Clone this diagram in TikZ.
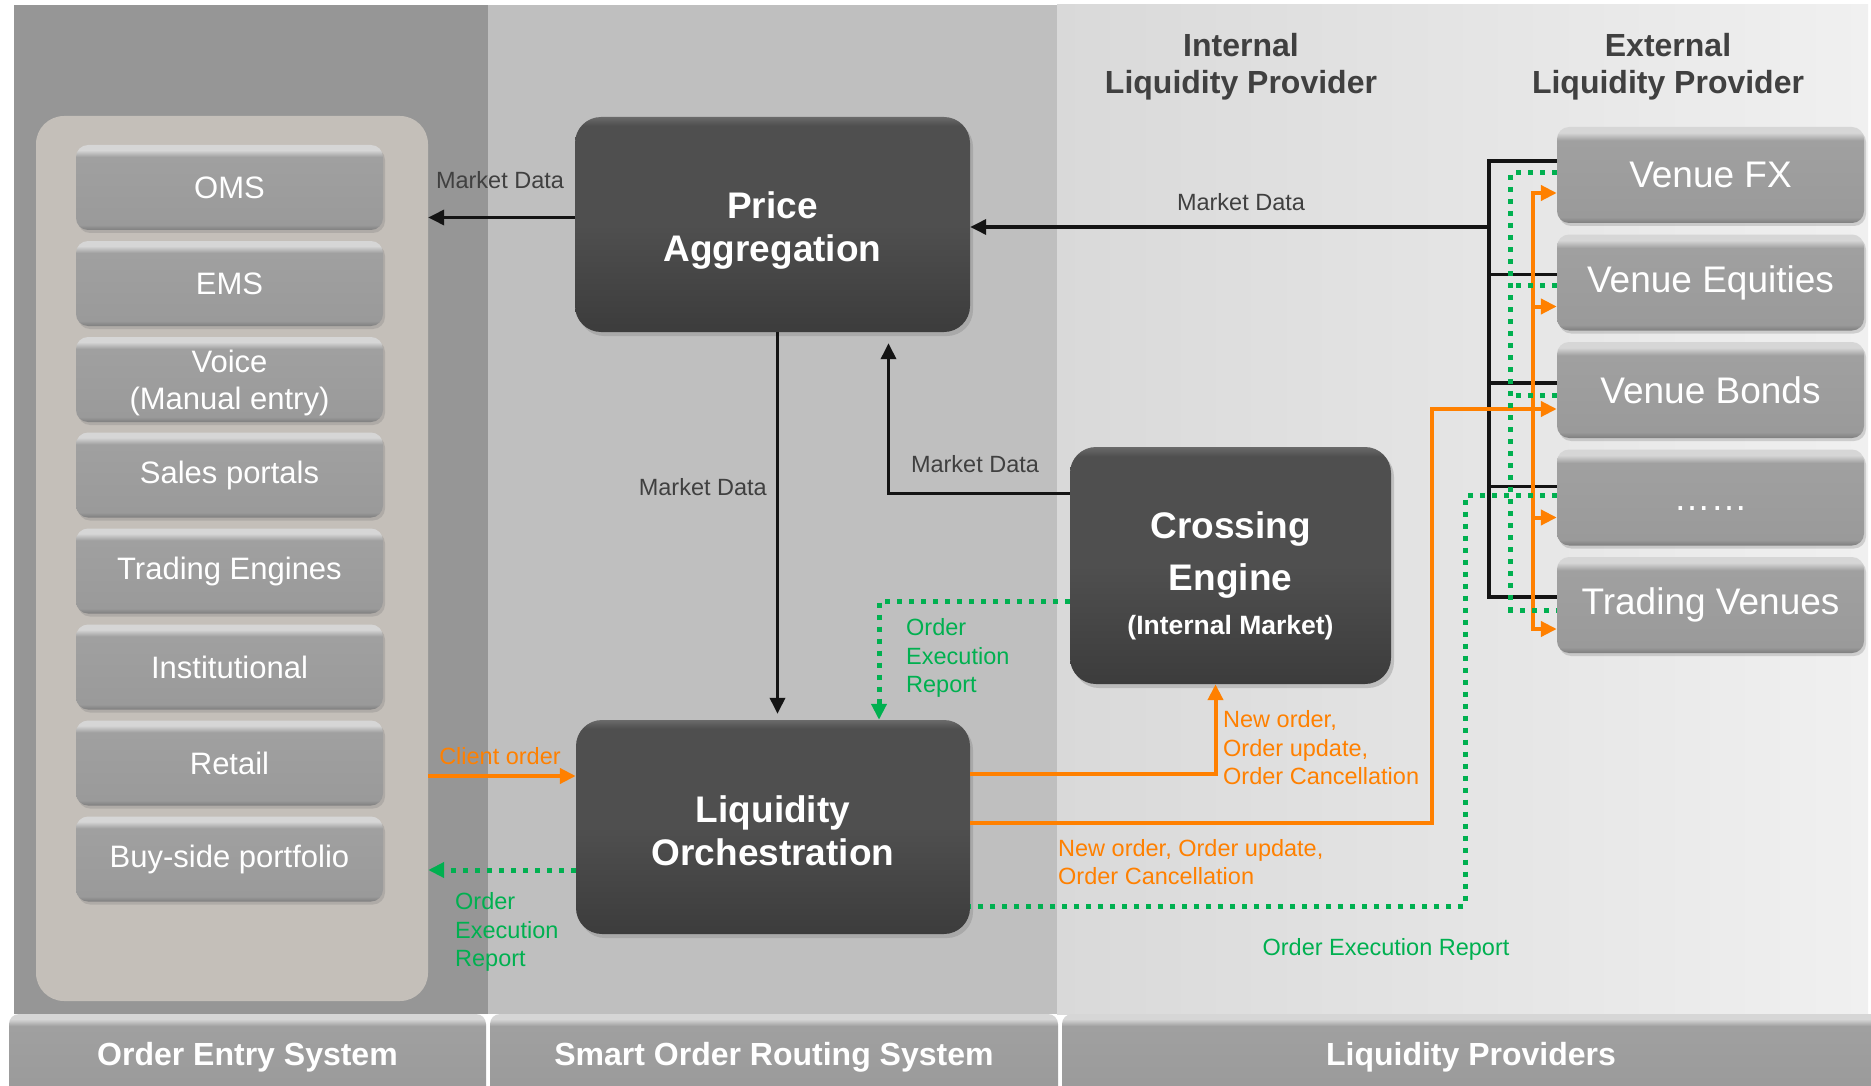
\documentclass[tikz,border=0pt]{standalone}
\usepackage{fontspec}
\setmainfont{Liberation Sans}
\usetikzlibrary{arrows.meta,shadows}

\definecolor{oesgray}{HTML}{969696}
\definecolor{sorgray}{HTML}{BFBFBF}
\definecolor{lpleft}{HTML}{D9D9D9}
\definecolor{lpright}{HTML}{F0F0F0}
\definecolor{panelbeige}{HTML}{C4BFB9}
\definecolor{btntop}{HTML}{D6D6D6}
\definecolor{btnmid}{HTML}{A0A0A0}
\definecolor{btnlow}{HTML}{9A9A9A}
\definecolor{btnbot}{HTML}{7E7E7E}
\definecolor{boxtop}{HTML}{6A6A6A}
\definecolor{boxmid}{HTML}{4F4F4F}
\definecolor{boxbot}{HTML}{3C3C3C}
\definecolor{txtgray}{HTML}{404040}
\definecolor{ordorange}{HTML}{FF8000}
\definecolor{rptgreen}{HTML}{00B050}

\pgfdeclareverticalshading{btnshade}{100bp}{color(0bp)=(btnbot); color(25bp)=(btnbot);
  color(28bp)=(btnlow); color(68bp)=(btnmid); color(72bp)=(btntop); color(100bp)=(btntop)}
\pgfdeclareverticalshading{boxshade}{100bp}{color(0bp)=(boxbot); color(25bp)=(boxbot);
  color(50bp)=(boxmid); color(73bp)=(boxmid); color(75bp)=(boxtop); color(100bp)=(boxtop)}

\tikzset{
  srcbtn/.style={rounded corners=12pt, shading=btnshade,
    minimum width=307pt, minimum height=85pt, text=white, align=center, inner sep=0pt,
    font=\fontsize{31}{37}\selectfont,
    drop shadow={opacity=0.3, shadow xshift=2pt, shadow yshift=-3pt}},
  venuebtn/.style={srcbtn, minimum height=96pt, font=\fontsize{37}{43}\selectfont},
  barbtn/.style={rounded corners=10pt, shading=btnshade,
    minimum height=86pt, text=white, inner sep=0pt, font=\bfseries\fontsize{32}{38}\selectfont},
  darkbox/.style={rounded corners=26pt, shading=boxshade,
    text=white, align=center, inner sep=0pt, font=\bfseries\fontsize{37}{43}\selectfont,
    drop shadow={opacity=0.35, shadow xshift=3pt, shadow yshift=-4pt}},
  panel/.style={rounded corners=28pt, fill=panelbeige, minimum width=392pt, minimum height=885pt},
  headtext/.style={text=txtgray, align=center, font=\bfseries\fontsize{32}{37}\selectfont},
  mdtext/.style={text=txtgray, inner sep=0pt, align=left, font=\fontsize{23.5}{28.5}\selectfont},
  ordtext/.style={mdtext, text=ordorange},
  rpttext/.style={mdtext, text=rptgreen},
  tip/.style={-{Triangle[length=16pt,width=15pt]}},
  busline/.style={line width=3.5pt, black!92},
  mdline/.style={busline, tip},
  ordline/.style={line width=4pt, ordorange},
  rptline/.style={line width=5pt, rptgreen, dash pattern=on 5pt off 7pt}
}

\begin{document}
\begin{tikzpicture}[x=1pt,y=-1pt]
\useasboundingbox (0,0) rectangle (1871,1086);
\clip (0,0) rectangle (1871,1086);

% columns
\fill[oesgray] (14,5) rectangle (488,1014);
\fill[sorgray] (488,5) rectangle (1057,1014);
\shade[left color=lpleft, right color=lpright] (1057,5) rectangle (1868,1014);
\node[panel] (panel) at (232,558.5) {};

\node[barbtn, minimum width=477pt] (baroes) at (247.5,1057) {Order Entry System};
\node[barbtn, minimum width=568pt] (barsor) at (774,1057) {Smart Order Routing System};
\node[barbtn, minimum width=818pt] (barlp) at (1471,1057) {Liquidity Providers};

% order entry
\node[srcbtn] (oms) at (229.5,187.5) {OMS};
\node[srcbtn] (ems) at (229.5,283.5) {EMS};
\node[srcbtn] (voice) at (229.5,379.5) {\rule{0pt}{30pt}Voice\\(Manual entry)};
\node[srcbtn] (sales) at (229.5,475) {Sales portals};
\node[srcbtn] (trading) at (229.5,571) {Trading Engines};
\node[srcbtn] (inst) at (229.5,667) {Institutional};
\node[srcbtn] (retail) at (229.5,763) {Retail};
\node[srcbtn] (buyside) at (229.5,859) {Buy-side portfolio};

% providers
\node[headtext] (inthead) at (1241,67) {Internal\\Liquidity Provider};
\node[headtext] (exthead) at (1668,67) {External\\Liquidity Provider};
\node[venuebtn] (vfx) at (1710.5,175) {Venue FX};
\node[venuebtn] (veq) at (1710.5,282.5) {Venue Equities};
\node[venuebtn] (vbond) at (1710.5,390) {Venue Bonds};
\node[venuebtn] (vdots) at (1710.5,497.5) {\smash{\raisebox{-13pt}{……}}};
\node[venuebtn] (vtrade) at (1710.5,605) {Trading Venues};

\node[darkbox, minimum width=395pt, minimum height=215pt] (price) at (772.5,224.5)
  {\rule{0pt}{39pt}Price\\Aggregation};
\node[darkbox, minimum width=394pt, minimum height=214pt] (liquidity) at (773,827)
  {\rule{0pt}{34pt}Liquidity\\Orchestration};
\node[darkbox, minimum width=321pt, minimum height=237pt] (crossing) at (1230.5,565.5)
  {\rule{0pt}{47pt}Crossing\\[9pt]Engine\\[1pt]{\fontsize{26.5}{30}\selectfont (Internal Market)}};

% market data
\coordinate (mdbus) at (1489,227);
\draw[mdline] ([yshift=7pt]price.west) -- ([yshift=7pt]price.west -| panel.east);
\draw[mdline] (mdbus) -- (mdbus -| price.east);
\draw[mdline] ([xshift=5pt]price.south) -- ([xshift=5pt,yshift=6pt]price.south |- liquidity.north);
\draw[mdline] ([yshift=72pt]crossing.west) -| ([xshift=116pt,yshift=-11pt]price.south);
\draw[busline] ([yshift=14pt]vfx.west) -- ++(-68,0) |- ([yshift=8pt]vtrade.west);
\draw[busline] ([yshift=8pt]veq.west) -- ++(-68,0);
\draw[busline] ([yshift=7pt]vbond.west) -- ++(-68,0);
\draw[busline] ([yshift=11pt]vdots.west) -- ++(-68,0);

% orders
\coordinate (ordturn) at (1432,409);
\draw[ordline, tip] ([yshift=51pt]liquidity.west -| panel.east) -- ([yshift=51pt]liquidity.west);
\draw[ordline, tip] ([yshift=53pt]liquidity.east) -| ([xshift=-15pt]crossing.south);
\draw[ordline, tip] ([yshift=4pt]liquidity.east) -| (ordturn) -- (ordturn -| vbond.west);
\draw[ordline] ([xshift=-24pt,yshift=-18pt]vfx.west) -- ([xshift=-24pt,yshift=-24pt]vtrade.west);
\draw[ordline, tip] ([xshift=-26pt,yshift=-18pt]vfx.west) -- ([yshift=-18pt]vfx.west);
\draw[ordline, tip] ([xshift=-26pt,yshift=-24pt]veq.west) -- ([yshift=-24pt]veq.west);
\draw[ordline, tip] ([xshift=-26pt,yshift=-20pt]vdots.west) -- ([yshift=-20pt]vdots.west);
\draw[ordline, tip] ([xshift=-26pt,yshift=-24pt]vtrade.west) -- ([yshift=-24pt]vtrade.west);

% execution reports
\coordinate (rptturn) at (1465,906);
\draw[rptline, tip] ([yshift=-43pt]liquidity.west) -- ([yshift=-43pt]liquidity.west -| panel.east);
\draw[rptline, tip] ([yshift=-36pt]crossing.west) -| ([xshift=106pt]liquidity.north);
\draw[rptline] ([yshift=2pt]vdots.west) -| (rptturn) -- (rptturn -| liquidity.east);
\draw[rptline] ([yshift=2pt]vfx.west) -- ++(-46,0) |- ([yshift=-5pt]vtrade.west);
\draw[rptline] ([yshift=-3pt]veq.west) -- ++(-46,0);
\draw[rptline] ([yshift=-5pt]vbond.west) -- ++(-46,0);

% labels
\node[mdtext] (mdoms) at (500,180) {Market Data};
\node[mdtext] (mdvenue) at (1241,202) {Market Data};
\node[mdtext, anchor=east] (mddown) at (767,487) {Market Data};
\node[mdtext] (mdcross) at (975,464) {Market Data};
\node[ordtext] (clientord) at (500,756) {Client order};
\node[ordtext, anchor=west] (ordcross) at (1223,748) {New order,\\Order update,\\Order Cancellation};
\node[ordtext, anchor=west] (ordvenue) at (1058,862) {New order, Order update,\\Order Cancellation};
\node[rpttext, anchor=west] (rptclient) at (455,932) {Order\\Execution\\Report};
\node[rpttext, anchor=west] (rptcross) at (906,658) {Order\\Execution\\Report};
\node[rpttext] (rptvenue) at (1386,949) {Order Execution Report};
\end{tikzpicture}
\end{document}
